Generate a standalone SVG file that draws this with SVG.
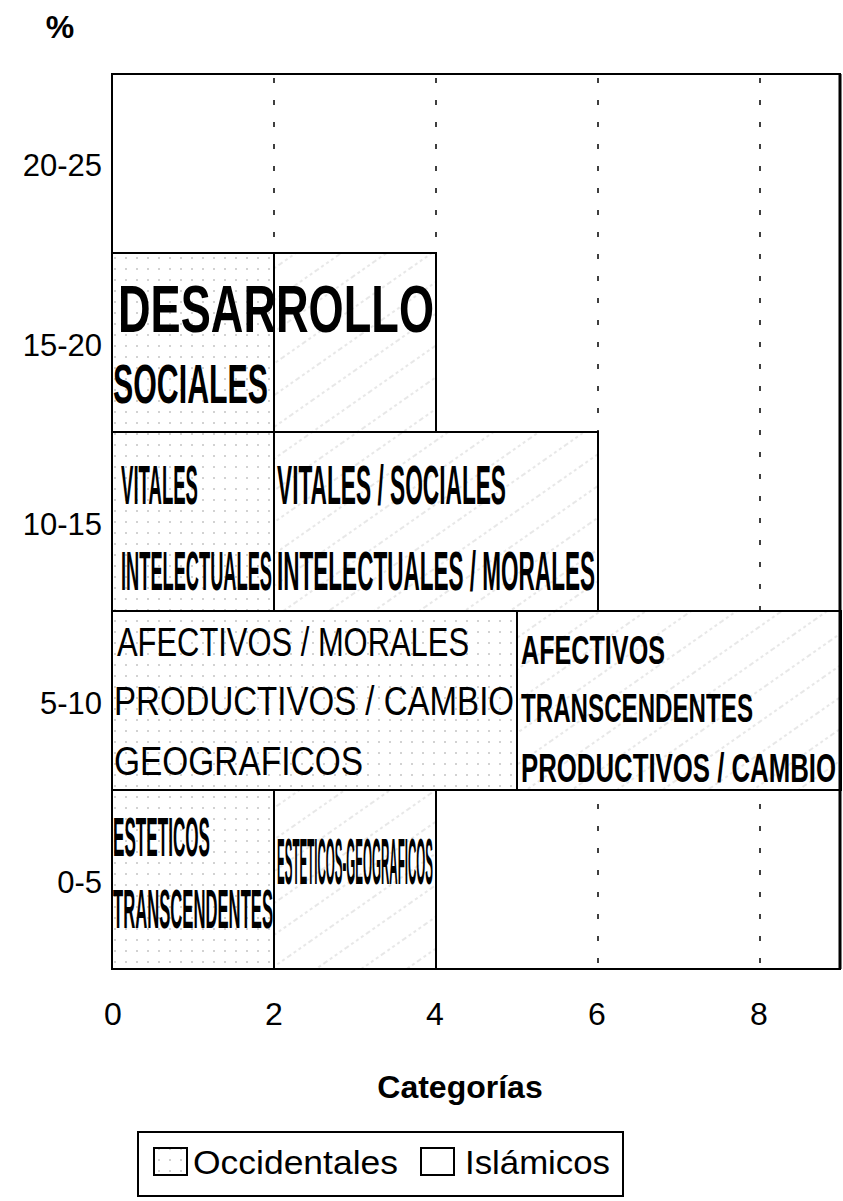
<svg xmlns="http://www.w3.org/2000/svg" width="843" height="1201" viewBox="0 0 843 1201">
<style>
.lbl{font-family:"Liberation Sans",Arial,sans-serif;fill:#000}
.ax{font-size:31px}
.box{stroke:#000;stroke-width:2}
.occ{fill:url(#dots)}
.isl{fill:url(#hatch)}
.cond{font-family:"Liberation Sans",Arial,sans-serif;fill:#000;font-weight:bold}
.wide{font-family:"Liberation Sans",Arial,sans-serif;fill:#000;font-size:41px}
.grid{stroke:#000;stroke-width:1.5;stroke-dasharray:5 17}
</style>
<defs>
<pattern id="dots" width="11" height="11" patternUnits="userSpaceOnUse">
<rect width="11" height="11" fill="#fff"/>
<circle cx="5" cy="5" r="0.8" fill="#9a9a9a"/>
</pattern>
<pattern id="hatch" width="26" height="26" patternUnits="userSpaceOnUse" patternTransform="rotate(-35)">
<rect width="26" height="26" fill="#fff"/>
<line x1="0" y1="13" x2="26" y2="13" stroke="#c4c4c4" stroke-width="0.8" stroke-dasharray="3 3"/>
</pattern>
</defs>
<rect width="843" height="1201" fill="#fff"/>

<text class="lbl" x="60" y="38" font-size="32" font-weight="bold" text-anchor="middle">%</text>

<g id="yaxis" class="lbl ax" text-anchor="end">
<text x="102" y="176">20-25</text>
<text x="102" y="356">15-20</text>
<text x="102" y="535">10-15</text>
<text x="102" y="714">5-10</text>
<text x="102" y="893">0-5</text>
</g>

<g id="grid">
<line class="grid" x1="274" y1="78" x2="274" y2="967"/>
<line class="grid" x1="436" y1="78" x2="436" y2="967"/>
<line class="grid" x1="598" y1="78" x2="598" y2="967"/>
<line class="grid" x1="760" y1="78" x2="760" y2="967"/>
</g>

<g id="r1520a"><rect class="box occ" x="112" y="253" width="162" height="179"/></g>
<g id="r1520b"><rect class="box isl" x="274" y="253" width="162" height="179"/></g>
<g id="r1015a"><rect class="box occ" x="112" y="432" width="162" height="179"/></g>
<g id="r1015b"><rect class="box isl" x="274" y="432" width="324" height="179"/></g>
<g id="r510a"><rect class="box occ" x="112" y="611" width="405" height="179"/></g>
<g id="r510b"><rect class="box isl" x="517" y="611" width="324" height="179"/></g>
<g id="r05a"><rect class="box occ" x="112" y="790" width="162" height="179"/></g>
<g id="r05b"><rect class="box isl" x="274" y="790" width="162" height="179"/></g>

<g id="frame"><rect x="112" y="74" width="728" height="895" fill="none" stroke="#000" stroke-width="2"/>
<line x1="840" y1="74" x2="840" y2="969" stroke="#000" stroke-width="3"/></g>

<g id="texts">
<text class="cond" x="118" y="332" font-size="66" textLength="316" lengthAdjust="spacingAndGlyphs">DESARROLLO</text>
<text class="cond" x="113" y="403" font-size="56" textLength="155" lengthAdjust="spacingAndGlyphs">SOCIALES</text>
<text class="cond" x="121" y="504" font-size="56" textLength="77" lengthAdjust="spacingAndGlyphs">VITALES</text>
<text class="cond" x="121" y="590" font-size="56" textLength="151" lengthAdjust="spacingAndGlyphs">INTELECTUALES</text>
<text class="cond" x="277" y="504" font-size="56" textLength="229" lengthAdjust="spacingAndGlyphs">VITALES / SOCIALES</text>
<text class="cond" x="277" y="590" font-size="56" textLength="318" lengthAdjust="spacingAndGlyphs">INTELECTUALES / MORALES</text>
<text class="wide" x="117" y="656" textLength="352" lengthAdjust="spacingAndGlyphs">AFECTIVOS / MORALES</text>
<text class="wide" x="114" y="715" textLength="400" lengthAdjust="spacingAndGlyphs">PRODUCTIVOS / CAMBIO</text>
<text class="wide" x="114" y="775" textLength="249" lengthAdjust="spacingAndGlyphs">GEOGRAFICOS</text>
<text class="cond" x="521" y="664" font-size="40" textLength="144" lengthAdjust="spacingAndGlyphs">AFECTIVOS</text>
<text class="cond" x="521" y="722" font-size="40" textLength="232" lengthAdjust="spacingAndGlyphs">TRANSCENDENTES</text>
<text class="cond" x="521" y="782" font-size="40" textLength="315" lengthAdjust="spacingAndGlyphs">PRODUCTIVOS / CAMBIO</text>
<text class="cond" x="113" y="856" font-size="56" textLength="97" lengthAdjust="spacingAndGlyphs">ESTETICOS</text>
<text class="cond" x="113" y="928" font-size="56" textLength="160" lengthAdjust="spacingAndGlyphs">TRANSCENDENTES</text>
<text class="cond" x="277" y="884" font-size="64" textLength="156" lengthAdjust="spacingAndGlyphs">ESTETICOS-GEOGRAFICOS</text>
</g>

<g id="xaxis" class="lbl" font-size="32" text-anchor="middle">
<text x="113" y="1025">0</text>
<text x="274" y="1025">2</text>
<text x="435" y="1025">4</text>
<text x="597" y="1025">6</text>
<text x="759" y="1025">8</text>
</g>
<text class="lbl" x="460" y="1098" font-size="32" font-weight="bold" text-anchor="middle">Categorías</text>

<g id="legend">
<rect x="138" y="1132" width="485" height="64" fill="#fff" stroke="#000" stroke-width="2"/>
<rect x="154" y="1148" width="33" height="27" fill="url(#dots)" stroke="#000" stroke-width="2"/>
<text class="lbl" x="193" y="1174" font-size="33" textLength="205" lengthAdjust="spacingAndGlyphs">Occidentales</text>
<rect x="421" y="1148" width="33" height="27" fill="#fff" stroke="#000" stroke-width="2"/>
<text class="lbl" x="465" y="1174" font-size="33" textLength="145" lengthAdjust="spacingAndGlyphs">Islámicos</text>
</g>
</svg>
